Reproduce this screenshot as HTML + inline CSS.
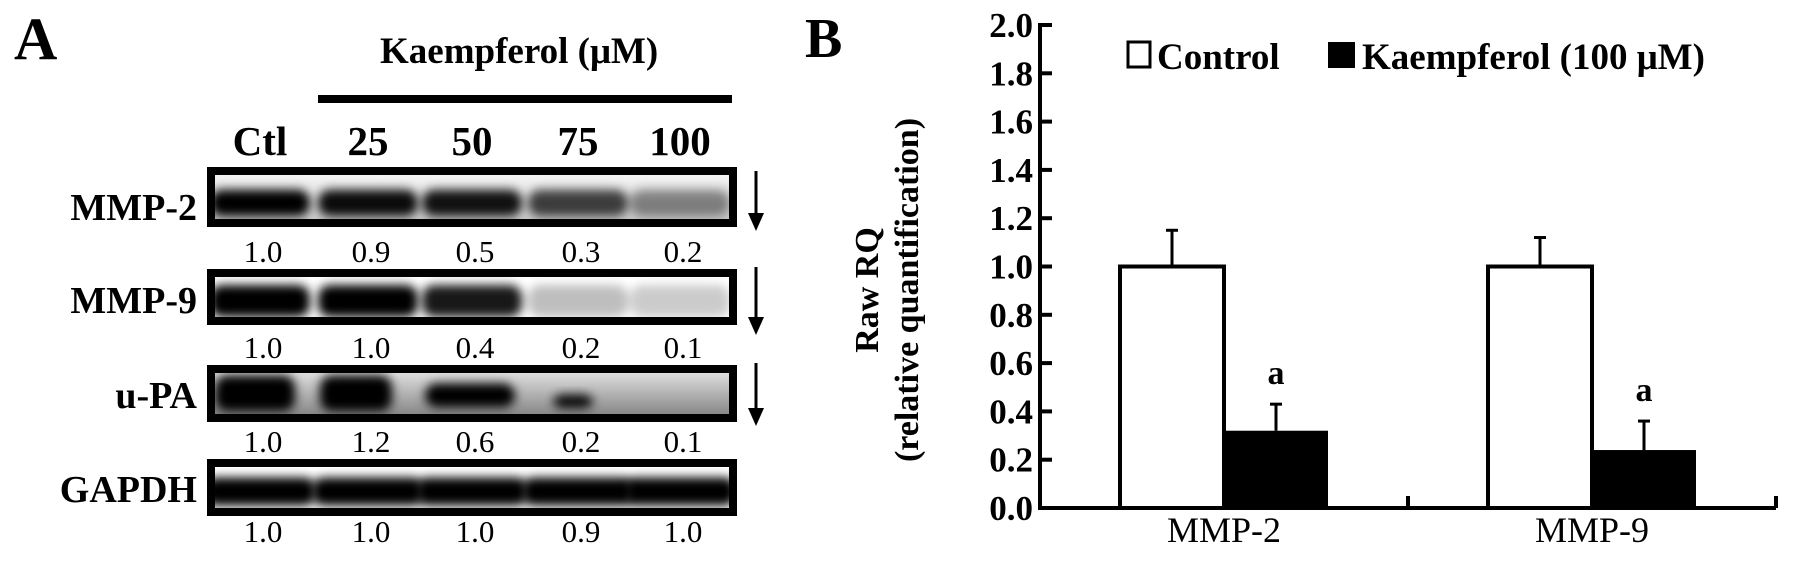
<!DOCTYPE html>
<html><head><meta charset="utf-8"><style>
html,body{margin:0;padding:0;background:#fff;}
svg{display:block;}
text{font-family:"Liberation Serif",serif;fill:#000;}
.b{font-weight:bold;}
</style></head><body>
<svg id="fig" width="1795" height="562" viewBox="0 0 1795 562" xmlns="http://www.w3.org/2000/svg">
<defs>
<filter id="bl" x="-30%" y="-60%" width="160%" height="220%"><feGaussianBlur stdDeviation="5"/></filter>
<linearGradient id="upag" x1="0" y1="0" x2="0" y2="1"><stop offset="0" stop-color="#ddd"/><stop offset="1" stop-color="#888"/></linearGradient>
<linearGradient id="m2g" x1="0" y1="0" x2="0" y2="1"><stop offset="0" stop-color="#f4f4f4"/><stop offset="1" stop-color="#ccc"/></linearGradient>
</defs>
<g>
<text class="b" x="14" y="59" font-size="60">A</text>
<text class="b" x="380" y="63" font-size="37">Kaempferol  (μM)</text>
<rect x="318" y="95" width="414" height="8" fill="#000"/>
<g id="lanes"></g>
<g id="blots"></g>
</g>
<g>
<text class="b" x="805" y="57" font-size="56">B</text>
<text class="b" font-size="34" text-anchor="middle" transform="translate(878,290) rotate(-90)">Raw RQ</text>
<text class="b" font-size="34" text-anchor="middle" transform="translate(918,290) rotate(-90)">(relative quantification)</text>
<g id="chart"></g>
<rect x="1128" y="42" width="22" height="25" fill="#fff" stroke="#000" stroke-width="3"/>
<text class="b" x="1157" y="69" font-size="37">Control</text>
<rect x="1328" y="42" width="27" height="26" fill="#000"/>
<text class="b" x="1362" y="69" font-size="37">Kaempferol (100 μM)</text>
</g>
</svg>
<script>
const NS="http://www.w3.org/2000/svg";
const laneLabels=["Ctl","25","50","75","100"];
const blotRows=["MMP-2","MMP-9","u-PA","GAPDH"];
const mmp2Values=[1.0,0.9,0.5,0.3,0.2];
const mmp9Values=[1.0,1.0,0.4,0.2,0.1];
const upaValues=[1.0,1.2,0.6,0.2,0.1];
const gapdhValues=[1.0,1.0,1.0,0.9,1.0];
const categories=["MMP-2","MMP-9"];
const controlValues=[1.0,1.0];
const controlErr=[0.15,0.12];
const kaempValues=[0.32,0.24];
const kaempErr=[0.11,0.12];
const yTicks=["0.0","0.2","0.4","0.6","0.8","1.0","1.2","1.4","1.6","1.8","2.0"];

function mk(tag,attrs,parent){const e=document.createElementNS(NS,tag);for(const k in attrs)e.setAttribute(k,attrs[k]);parent.appendChild(e);return e;}

const laneX=[260,368,472,578,680];
const lg=document.getElementById('lanes');
laneLabels.forEach((l,i)=>{const t=mk('text',{x:laneX[i],y:155,'font-size':41,'text-anchor':'middle',class:'b'},lg);


t.textContent=l;});

const defs=document.querySelector('defs');
const bg=document.getElementById('blots');
const rowsY=[[167,227],[269,325],[365,422],[459,516]];
const labelBase=[220,313,408,502];
const valBase=[262,358,452,542];
const valArrays=[mmp2Values,mmp9Values,upaValues,gapdhValues];
rowsY.forEach((r,ri)=>{
  const g=mk('g',{},bg);
  
  
  const t=mk('text',{x:197,y:labelBase[ri],'font-size':38,'text-anchor':'end',class:'b'},g);
  
  
  t.textContent=blotRows[ri];
  const inner={x:215,y:r[0]+8,w:514,h:r[1]-r[0]-16};
  const cp=mk('clipPath',{id:'cp'+ri},defs);
  mk('rect',{x:inner.x,y:inner.y,width:inner.w,height:inner.h},cp);
  const ig=mk('g',{'clip-path':'url(#cp'+ri+')'},g);
  if(ri===2) mk('rect',{x:inner.x,y:inner.y,width:inner.w,height:inner.h,fill:'url(#upag)'},ig);
  else if(ri===0) mk('rect',{x:inner.x,y:inner.y,width:inner.w,height:inner.h,fill:'url(#m2g)'},ig);
  const cy=inner.y+inner.h/2;
  valArrays[ri].forEach((v,i)=>{
    let op, w=100, h=inner.h*0.75, y=cy+4;
    if(ri===0){op=[1,0.95,0.92,0.72,0.42][i];y=cy+6;h=inner.h*0.6;}
    else if(ri===1){op=[1,1,0.9,0.25,0.2][i];h=inner.h*0.8;}
    else if(ri===2){op=[1,1,1,0.95,0][i];w=[80,72,90,40,0][i];h=[36,36,24,14,0][i];y=cy+[0,0,2,8,0][i];}
    else {op=1;h=28;w=112;}
    if(op>0){const e=mk('rect',{x:laneX[i]-w/2+(ri===2?[-5,-12,-2,-5,0][i]:0),y:y-h/2,width:w,height:h,rx:12,fill:'#000',opacity:op,filter:'url(#bl)'},ig);
      
      }
    const vt=mk('text',{x:laneX[i]+3,y:valBase[ri],'font-size':31,'text-anchor':'middle'},g);
    
    
    vt.textContent=v.toFixed(1);
  });
  const bx=mk('rect',{x:211,y:r[0]+4,width:522,height:r[1]-r[0]-8,fill:'none',stroke:'#000','stroke-width':8},g);
  
  
  if(ri<3){const ax=mk('g',{},g);
    
    
    const y0=r[0]+(ri===0?4:-2), y1=r[1]+(ri===1?10:4);
    mk('line',{x1:756,y1:y0,x2:756,y2:y1-16,stroke:'#000','stroke-width':3},ax);
    mk('polygon',{points:`748,${y1-18} 764,${y1-18} 756,${y1}`,fill:'#000'},ax);}
});

const ch=document.getElementById('chart');
const X0=1040,X1=1776,Y0=508,PPU=241.5;
const yS=v=>Y0-v*PPU;
const band=(X1-X0)/categories.length;
const cx=i=>X0+band*(i+0.5);
const BW=104;
mk('line',{x1:X0,y1:yS(2.0)-2,x2:X0,y2:Y0+2,stroke:'#000','stroke-width':4},ch);
mk('line',{x1:X0-2,y1:Y0,x2:X1,y2:Y0,stroke:'#000','stroke-width':4},ch);
yTicks.forEach(t=>{const v=parseFloat(t);
  mk('line',{x1:X0,y1:yS(v),x2:X0+12,y2:yS(v),stroke:'#000','stroke-width':4},ch);
  const tx=mk('text',{x:1033,y:yS(v)+12,'font-size':35,'text-anchor':'end',class:'b'},ch);
  
  
  tx.textContent=t;});
for(let i=1;i<=categories.length;i++){const x=X0+band*i;
  mk('line',{x1:x,y1:Y0,x2:x,y2:Y0-12,stroke:'#000','stroke-width':4},ch);}
categories.forEach((c,i)=>{
  const xc=cx(i);
  const r1=mk('rect',{x:xc-BW,y:yS(controlValues[i]),width:BW,height:Y0-yS(controlValues[i]),fill:'#fff',stroke:'#000','stroke-width':4},ch);
  
  
  const r2=mk('rect',{x:xc,y:yS(kaempValues[i]),width:BW,height:Y0-yS(kaempValues[i]),fill:'#000'},ch);
  
  
  [[xc-BW/2,controlValues[i],controlErr[i]],[xc+BW/2,kaempValues[i],kaempErr[i]]].forEach(([x,v,e])=>{
    const eg=mk('g',{},ch);
    
    
    mk('line',{x1:x,y1:yS(v),x2:x,y2:yS(v+e),stroke:'#000','stroke-width':3},eg);
    mk('line',{x1:x-6,y1:yS(v+e),x2:x+6,y2:yS(v+e),stroke:'#000','stroke-width':3},eg);
  });
  const a=mk('text',{x:xc+BW/2,y:yS(kaempValues[i]+kaempErr[i])-20,'font-size':34,'text-anchor':'middle',class:'b'},ch);
  
  
  a.textContent='a';
  const lab=mk('text',{x:xc,y:542,'font-size':36,'text-anchor':'middle'},ch);
  
  
  lab.textContent=c;
});
</script>
</body></html>
